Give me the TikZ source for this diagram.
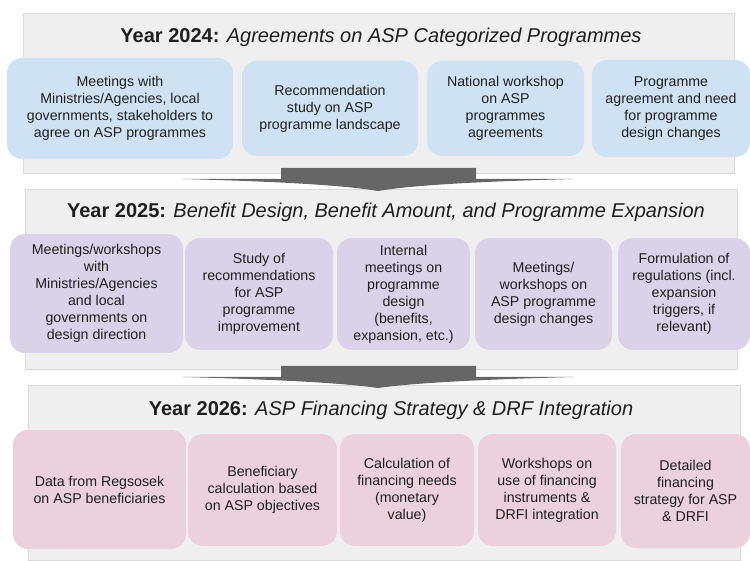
\documentclass[tikz,border=0pt]{standalone}
\usepackage{fontspec}
\setmainfont{Liberation Sans}
\begin{document}
\definecolor{panelgray}{HTML}{EFEFEF}
\definecolor{paneledge}{HTML}{DADADA}
\definecolor{boxblue}{HTML}{CFE2F3}
\definecolor{boxpurple}{HTML}{D9D2E9}
\definecolor{boxpink}{HTML}{EAD1DC}
\definecolor{arrowgray}{HTML}{666666}
\definecolor{ink}{HTML}{1F1F1F}
\begin{tikzpicture}[x=1pt,y=-1pt,
  panel/.style={fill=panelgray,draw=paneledge,line width=0.6pt},
  yeartitle/.style={anchor=base,inner sep=0pt,text=ink,font=\fontsize{20}{24}\selectfont},
  stepbox/.style={rounded corners=15pt,inner sep=0pt,align=center,text=ink,
    font=\fontsize{14.2}{17}\selectfont},
  bluebox/.style={stepbox,fill=boxblue},
  purplebox/.style={stepbox,fill=boxpurple},
  pinkbox/.style={stepbox,fill=boxpink},
  flowarrow/.style={fill=arrowgray,draw=none}]
\useasboundingbox (0,0) rectangle (750,561);

% phase panels
\draw[panel] (23,13) rectangle (734,173);
\draw[panel] (25,189) rectangle (737,369);
\draw[panel] (28,385) rectangle (740,560);

% down arrows between phases
\fill[flowarrow] (281,168) -- (476,168) -- (476,179) -- (573,179)
  .. controls (500,181) and (420,184) .. (378,191)
  .. controls (336,184) and (256,181) .. (183,179) -- (281,179) -- cycle;
\fill[flowarrow] (281,366) -- (476,366) -- (476,377) -- (573,377)
  .. controls (500,379) and (420,382) .. (378,388)
  .. controls (336,382) and (256,379) .. (183,377) -- (281,377) -- cycle;

% phase titles
\node[yeartitle] (t24) at (381,43) {\textbf{Year 2024:} \textit{Agreements on ASP Categorized Programmes}};
\node[yeartitle] (t25) at (386,218) {\textbf{Year 2025:} \textit{Benefit Design, Benefit Amount, and Programme Expansion}};
\node[yeartitle] (t26) at (391,415) {\textbf{Year 2026:} \textit{ASP Financing Strategy \& DRF Integration}};

% 2024 activities
\node[bluebox,minimum width=226pt,minimum height=101pt] (a1) at (120,108.5)
  {Meetings with\\Ministries/Agencies, local\\governments, stakeholders to\\agree on ASP programmes};
\node[bluebox,minimum width=176pt,minimum height=95pt] (a2) at (330,108.5)
  {Recommendation\\study on ASP\\programme landscape};
\node[bluebox,minimum width=157pt,minimum height=95pt] (a3) at (505.5,108.5)
  {National workshop\\on ASP\\programmes\\agreements};
\node[bluebox,minimum width=158pt,minimum height=97pt] (a4) at (671,108.5)
  {Programme\\agreement and need\\for programme\\design changes};

% 2025 activities
\node[purplebox,minimum width=173pt,minimum height=119pt] (b1) at (96.5,293.5)
  {Meetings/workshops\\with\\Ministries/Agencies\\and local\\governments on\\design direction};
\node[purplebox,minimum width=148pt,minimum height=112pt] (b2) at (259,294)
  {Study of\\recommendations\\for ASP\\programme\\improvement};
\node[purplebox,minimum width=133pt,minimum height=112pt] (b3) at (403.5,294)
  {Internal\\meetings on\\programme\\design\\(benefits,\\expansion, etc.)};
\node[purplebox,minimum width=137pt,minimum height=112pt] (b4) at (543.5,294)
  {Meetings/\\workshops on\\ASP programme\\design changes};
\node[purplebox,minimum width=132pt,minimum height=112pt] (b5) at (684,294)
  {Formulation of\\regulations (incl.\\expansion\\triggers, if\\relevant)};

% 2026 activities
\node[pinkbox,minimum width=173pt,minimum height=119pt] (c1) at (99.5,489.5)
  {Data from Regsosek\\on ASP beneficiaries};
\node[pinkbox,minimum width=149pt,minimum height=112pt] (c2) at (262.5,490)
  {Beneficiary\\calculation based\\on ASP objectives};
\node[pinkbox,minimum width=134pt,minimum height=112pt] (c3) at (407,490)
  {Calculation of\\financing needs\\(monetary\\value)};
\node[pinkbox,minimum width=138pt,minimum height=112pt] (c4) at (547,490)
  {Workshops on\\use of financing\\instruments \&\\DRFI integration};
\node[pinkbox,minimum width=129pt,minimum height=114pt] (c5) at (685.5,491)
  {Detailed\\financing\\strategy for ASP\\\& DRFI};
\end{tikzpicture}
\end{document}
